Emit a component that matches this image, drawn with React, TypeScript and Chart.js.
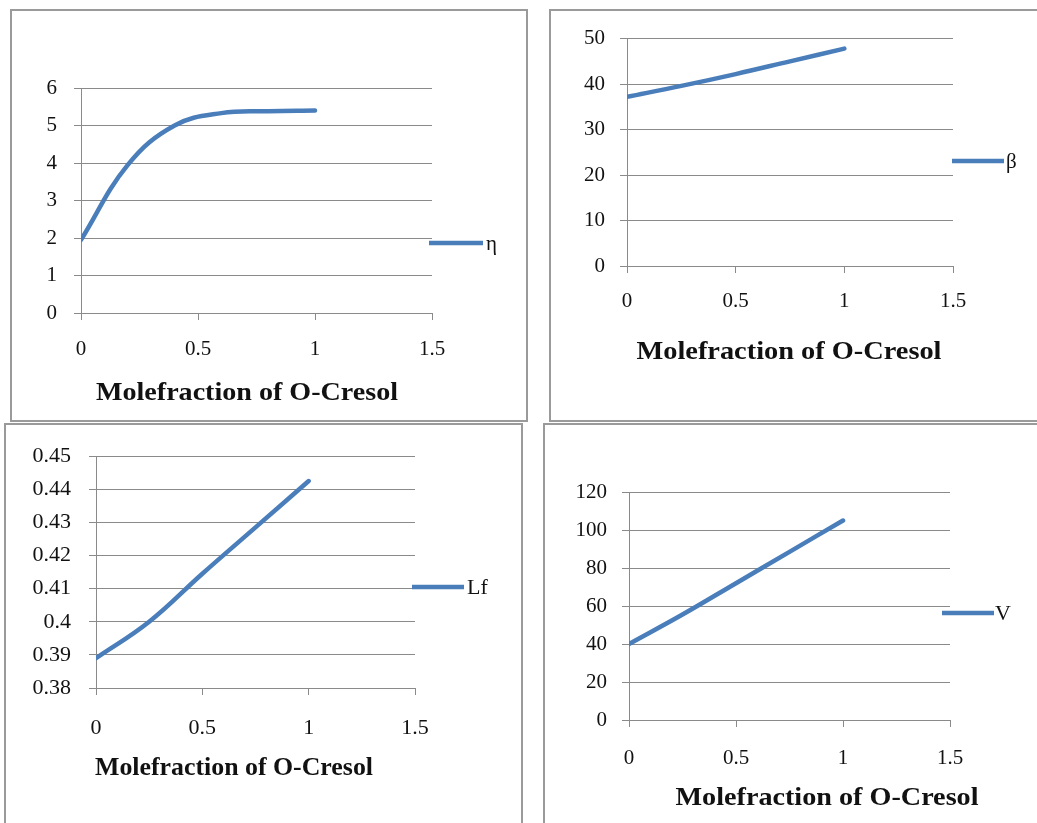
import React, { useEffect, useRef } from 'react';
import { Chart, registerables } from 'chart.js';

Chart.register(...registerables);

// ---------- data ----------
const xTitle = 'Molefraction of O-Cresol';
const xTicks = [0, 0.5, 1, 1.5];

const etaX = [0, 0.2, 0.4, 0.6, 0.8, 1.0];
const etaValues = [1.95, 3.95, 5.0, 5.33, 5.38, 5.4];
const etaTicks = [0, 1, 2, 3, 4, 5, 6];

const moleX = [0, 0.25, 0.5, 0.75, 1.0];
const betaValues = [37.2, 39.6, 42.2, 45.0, 47.8];
const betaTicks = [0, 10, 20, 30, 40, 50];

const lfValues = [0.389, 0.4, 0.4145, 0.4285, 0.4425];
const lfTicks = [0.38, 0.39, 0.4, 0.41, 0.42, 0.43, 0.44, 0.45];

const vValues = [40, 55.5, 72, 88.5, 105];
const vTicks = [0, 20, 40, 60, 80, 100, 120];

// ---------- styles ----------
const SERIF = '"Liberation Serif", "Times New Roman", serif';
const LINE = '#4A7EBB';
const GRID = '#8a8a8a';
const BORDER = 2;

type PanelCfg = {
  label: string;
  xs: number[];
  ys: number[];
  yTicks: number[];
  box: { left: number; top: number; width: number; height: number };
  area: { left: number; top: number; right: number; bottom: number };
  tickSize: number;
  yPad: number;
  xPad: number;
  title: { x: number; y: number; width: number; size: number };
  legend: { x0: number; x1: number; y: number; tx: number; size: number };
};

const panels: PanelCfg[] = [
  {
    label: 'η', xs: etaX, ys: etaValues, yTicks: etaTicks,
    box: { left: 10, top: 9, width: 518, height: 413 },
    area: { left: 81, top: 88, right: 432, bottom: 313 },
    tickSize: 21, yPad: 17, xPad: 17,
    title: { x: 247, y: 400, width: 302, size: 26 },
    legend: { x0: 429, x1: 483, y: 243, tx: 486, size: 21 },
  },
  {
    label: 'β', xs: moleX, ys: betaValues, yTicks: betaTicks,
    box: { left: 549, top: 9, width: 500, height: 413 },
    area: { left: 627, top: 32, right: 953, bottom: 266 },
    tickSize: 21, yPad: 15, xPad: 16,
    title: { x: 789, y: 359, width: 305, size: 26 },
    legend: { x0: 952, x1: 1004, y: 161, tx: 1006, size: 21 },
  },
  {
    label: 'Lf', xs: moleX, ys: lfValues, yTicks: lfTicks,
    box: { left: 4, top: 423, width: 519, height: 410 },
    area: { left: 96, top: 452, right: 415, bottom: 688 },
    tickSize: 22, yPad: 18, xPad: 20,
    title: { x: 234, y: 775, width: 278, size: 25 },
    legend: { x0: 412, x1: 464, y: 587, tx: 467, size: 22 },
  },
  {
    label: 'V', xs: moleX, ys: vValues, yTicks: vTicks,
    box: { left: 543, top: 423, width: 506, height: 410 },
    area: { left: 629, top: 492, right: 950, bottom: 720 },
    tickSize: 21, yPad: 15, xPad: 19,
    title: { x: 827, y: 805, width: 303, size: 26 },
    legend: { x0: 942, x1: 994, y: 613, tx: 995, size: 22 },
  },
];

const fmt = (v: number) => String(Number(Number(v).toFixed(4)));

const decorPlugin = {
  id: 'decor',
  afterDraw(chart: any, _args: any, opts: any) {
    const ctx: CanvasRenderingContext2D = chart.ctx;
    // axis title (stretched to the reference width)
    ctx.save();
    ctx.font = `bold ${opts.titleSize}px ${SERIF}`;
    const w = ctx.measureText(opts.title).width;
    ctx.translate(opts.titleX, opts.titleY);
    ctx.scale(opts.titleWidth / w, 1);
    ctx.textAlign = 'center';
    ctx.textBaseline = 'alphabetic';
    ctx.fillStyle = '#111';
    ctx.fillText(opts.title, 0, 0);
    ctx.restore();
    // legend
    const ds = chart.data.datasets[0];
    ctx.save();
    ctx.strokeStyle = ds.borderColor;
    ctx.lineWidth = 4.5;
    ctx.beginPath();
    ctx.moveTo(opts.lx0, opts.ly);
    ctx.lineTo(opts.lx1, opts.ly);
    ctx.stroke();
    ctx.font = `${opts.lsize}px ${SERIF}`;
    ctx.fillStyle = '#111';
    ctx.textAlign = 'left';
    ctx.textBaseline = 'middle';
    ctx.fillText(ds.label, opts.ltx, opts.ly + 1);
    ctx.restore();
  },
};

function Panel({ cfg }: { cfg: PanelCfg }) {
  const ref = useRef<HTMLCanvasElement>(null);
  const cw = cfg.box.width - 2 * BORDER;
  const ch = cfg.box.height - 2 * BORDER;
  useEffect(() => {
    const canvas = ref.current!;
    const ox = cfg.box.left + BORDER;
    const oy = cfg.box.top + BORDER;
    const aL = cfg.area.left - ox;
    const aT = cfg.area.top - oy;
    const aR = cfg.area.right - ox;
    const aB = cfg.area.bottom - oy;
    const yMin = cfg.yTicks[0];
    const yMax = cfg.yTicks[cfg.yTicks.length - 1];
    const chart = new Chart(canvas, {
      type: 'line',
      data: {
        datasets: [
          {
            label: cfg.label,
            data: cfg.xs.map((x, i) => ({ x, y: cfg.ys[i] })),
            borderColor: LINE,
            borderWidth: 4.5,
            pointRadius: 0,
            fill: false,
            tension: 0.4,
            borderCapStyle: 'round',
          },
        ],
      },
      options: {
        responsive: false,
        animation: false,
        layout: { padding: { left: 0, top: aT, right: cw - aR, bottom: 0 } },
        plugins: {
          legend: { display: false },
          tooltip: { enabled: false },
          decor: {
            title: xTitle,
            titleX: cfg.title.x - ox,
            titleY: cfg.title.y - oy,
            titleWidth: cfg.title.width,
            titleSize: cfg.title.size,
            lx0: cfg.legend.x0 - ox,
            lx1: cfg.legend.x1 - ox,
            ly: cfg.legend.y - oy,
            ltx: cfg.legend.tx - ox,
            lsize: cfg.legend.size,
          },
        } as any,
        scales: {
          x: {
            type: 'linear',
            min: xTicks[0],
            max: xTicks[xTicks.length - 1],
            afterBuildTicks: (s: any) => {
              s.ticks = xTicks.map((v) => ({ value: v }));
            },
            afterFit: (s: any) => {
              s.height = ch - aB;
            },
            grid: { drawOnChartArea: false, drawTicks: true, tickLength: 7, color: GRID, lineWidth: 1 },
            border: { display: true, color: GRID, width: 1 },
            ticks: {
              font: { family: SERIF, size: cfg.tickSize },
              color: '#111',
              padding: cfg.xPad,
              maxRotation: 0,
              autoSkip: false,
              callback: (v: any) => fmt(v),
            },
          },
          y: {
            type: 'linear',
            min: yMin,
            max: yMax,
            afterBuildTicks: (s: any) => {
              s.ticks = cfg.yTicks.map((v) => ({ value: v }));
            },
            afterFit: (s: any) => {
              s.width = aL;
            },
            grid: { drawOnChartArea: true, drawTicks: true, tickLength: 7, color: GRID, lineWidth: 1 },
            border: { display: true, color: GRID, width: 1 },
            ticks: {
              font: { family: SERIF, size: cfg.tickSize },
              color: '#111',
              padding: cfg.yPad,
              autoSkip: false,
              callback: (v: any) => fmt(v),
            },
          },
        },
      } as any,
      plugins: [decorPlugin],
    });
    return () => chart.destroy();
  }, []);
  return (
    <div
      style={{
        position: 'absolute',
        left: cfg.box.left,
        top: cfg.box.top,
        width: cfg.box.width,
        height: cfg.box.height,
        border: `${BORDER}px solid #9a9a9a`,
        boxSizing: 'border-box',
        background: '#fff',
      }}
    >
      <canvas
        ref={ref}
        width={cw}
        height={ch}
        style={{ position: 'absolute', left: 0, top: 0, width: cw, height: ch }}
      />
    </div>
  );
}

export default function App() {
  return (
    <div
      style={{
        position: 'absolute',
        left: 0,
        top: 0,
        width: 1037,
        height: 823,
        overflow: 'hidden',
        background: '#fff',
      }}
    >
      {panels.map((p) => (
        <Panel key={p.label} cfg={p} />
      ))}
    </div>
  );
}
